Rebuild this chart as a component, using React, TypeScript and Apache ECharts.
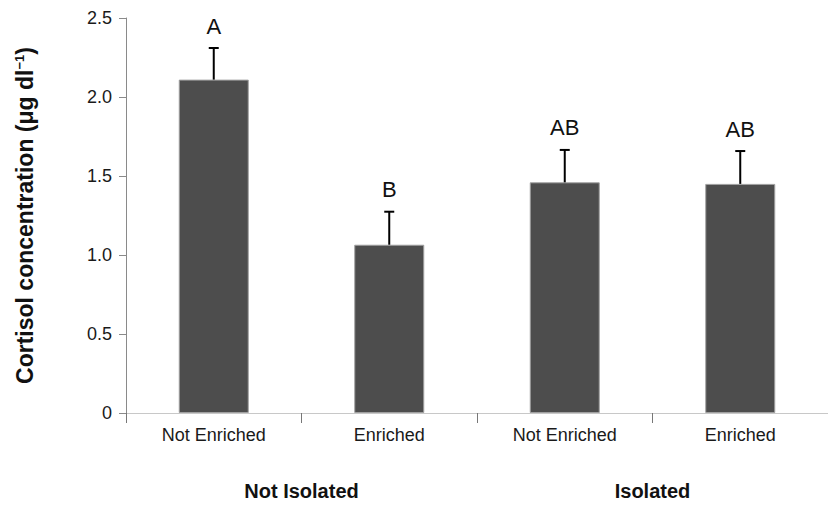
import React, { useEffect, useRef } from "react";
import * as echarts from "echarts";

const categories = ["Not Enriched", "Enriched", "Not Enriched", "Enriched"];
const groups = ["Not Isolated", "Isolated"];
const means = [2.11, 1.065, 1.46, 1.45];
const upperErrors = [2.31, 1.274, 1.665, 1.658];
const letters = ["A", "B", "AB", "AB"];
const yTicks = [0, 0.5, 1.0, 1.5, 2.0, 2.5];

const FONT = "'Liberation Sans', Arial, sans-serif";

export default function App() {
  const ref = useRef<HTMLDivElement>(null);
  useEffect(() => {
    if (!ref.current) return;
    const chart = echarts.init(ref.current, undefined, { renderer: "svg" });
    const errData = means.map((m, i) => [i, m, upperErrors[i]]);
    chart.setOption({
      animation: false,
      backgroundColor: "#ffffff",
      textStyle: { fontFamily: FONT },
      grid: { left: 126, right: 0, top: 18, bottom: 92, containLabel: false },
      xAxis: [
        {
          type: "category",
          data: categories,
          position: "bottom",
          axisLine: { show: true, lineStyle: { color: "#c8c8c8", width: 1 } },
          axisTick: { show: true, length: 10, lineStyle: { color: "#777", width: 1 } },
          axisLabel: { color: "#1a1a1a", fontSize: 18, margin: 13, fontFamily: FONT },
        },
        {
          type: "category",
          data: groups,
          position: "bottom",
          offset: 60,
          axisLine: { show: false },
          axisTick: { show: false },
          axisLabel: { color: "#111", fontSize: 20, fontWeight: "bold", margin: 8, fontFamily: FONT },
        },
      ],
      yAxis: {
        type: "value",
        min: yTicks[0],
        max: yTicks[yTicks.length - 1],
        interval: 0.5,
        splitLine: { show: false },
        axisLine: { show: true, lineStyle: { color: "#8a8a8a", width: 1 } },
        axisTick: { show: true, length: 7, lineStyle: { color: "#8a8a8a" } },
        axisLabel: {
          color: "#1a1a1a",
          fontSize: 18,
          margin: 14,
          fontFamily: FONT,
          formatter: (v: number) => (v === 0 ? "0" : v.toFixed(1)),
        },
        name: "{b|Cortisol concentration (μg dl}{s|−1}{b|)}",
        nameLocation: "middle",
        nameGap: 89,
        nameTextStyle: {
          rich: {
            b: { fontSize: 23, fontWeight: "bold", color: "#111", fontFamily: FONT },
            s: { fontSize: 13, fontWeight: "bold", color: "#111", fontFamily: FONT, verticalAlign: "top", padding: [0, 0, 11, 0] },
          },
        },
      },
      series: [
        {
          type: "bar",
          data: means,
          barWidth: 70,
          itemStyle: { color: "#4d4d4d", borderColor: "#a0a0a0", borderWidth: 1 },
          z: 2,
        },
        {
          type: "custom",
          data: errData,
          z: 3,
          renderItem: (params: any, api: any) => {
            const x = api.value(0);
            const base = api.coord([x, api.value(1)]);
            const top = api.coord([x, api.value(2)]);
            const cap = 5;
            return {
              type: "group",
              children: [
                {
                  type: "line",
                  shape: { x1: base[0], y1: base[1], x2: top[0], y2: top[1] },
                  style: { stroke: "#000", lineWidth: 2 },
                },
                {
                  type: "line",
                  shape: { x1: top[0] - cap, y1: top[1], x2: top[0] + cap, y2: top[1] },
                  style: { stroke: "#000", lineWidth: 2 },
                },
                {
                  type: "text",
                  x: top[0],
                  y: top[1] - 11,
                  style: {
                    text: letters[params.dataIndex],
                    fontSize: 22,
                    fontFamily: FONT,
                    fill: "#111",
                    align: "center",
                    verticalAlign: "bottom",
                  },
                },
              ],
            };
          },
        },
      ],
    });
    return () => chart.dispose();
  }, []);
  return <div ref={ref} style={{ width: 828, height: 505, position: "absolute", left: 0, top: 0 }} />;
}
